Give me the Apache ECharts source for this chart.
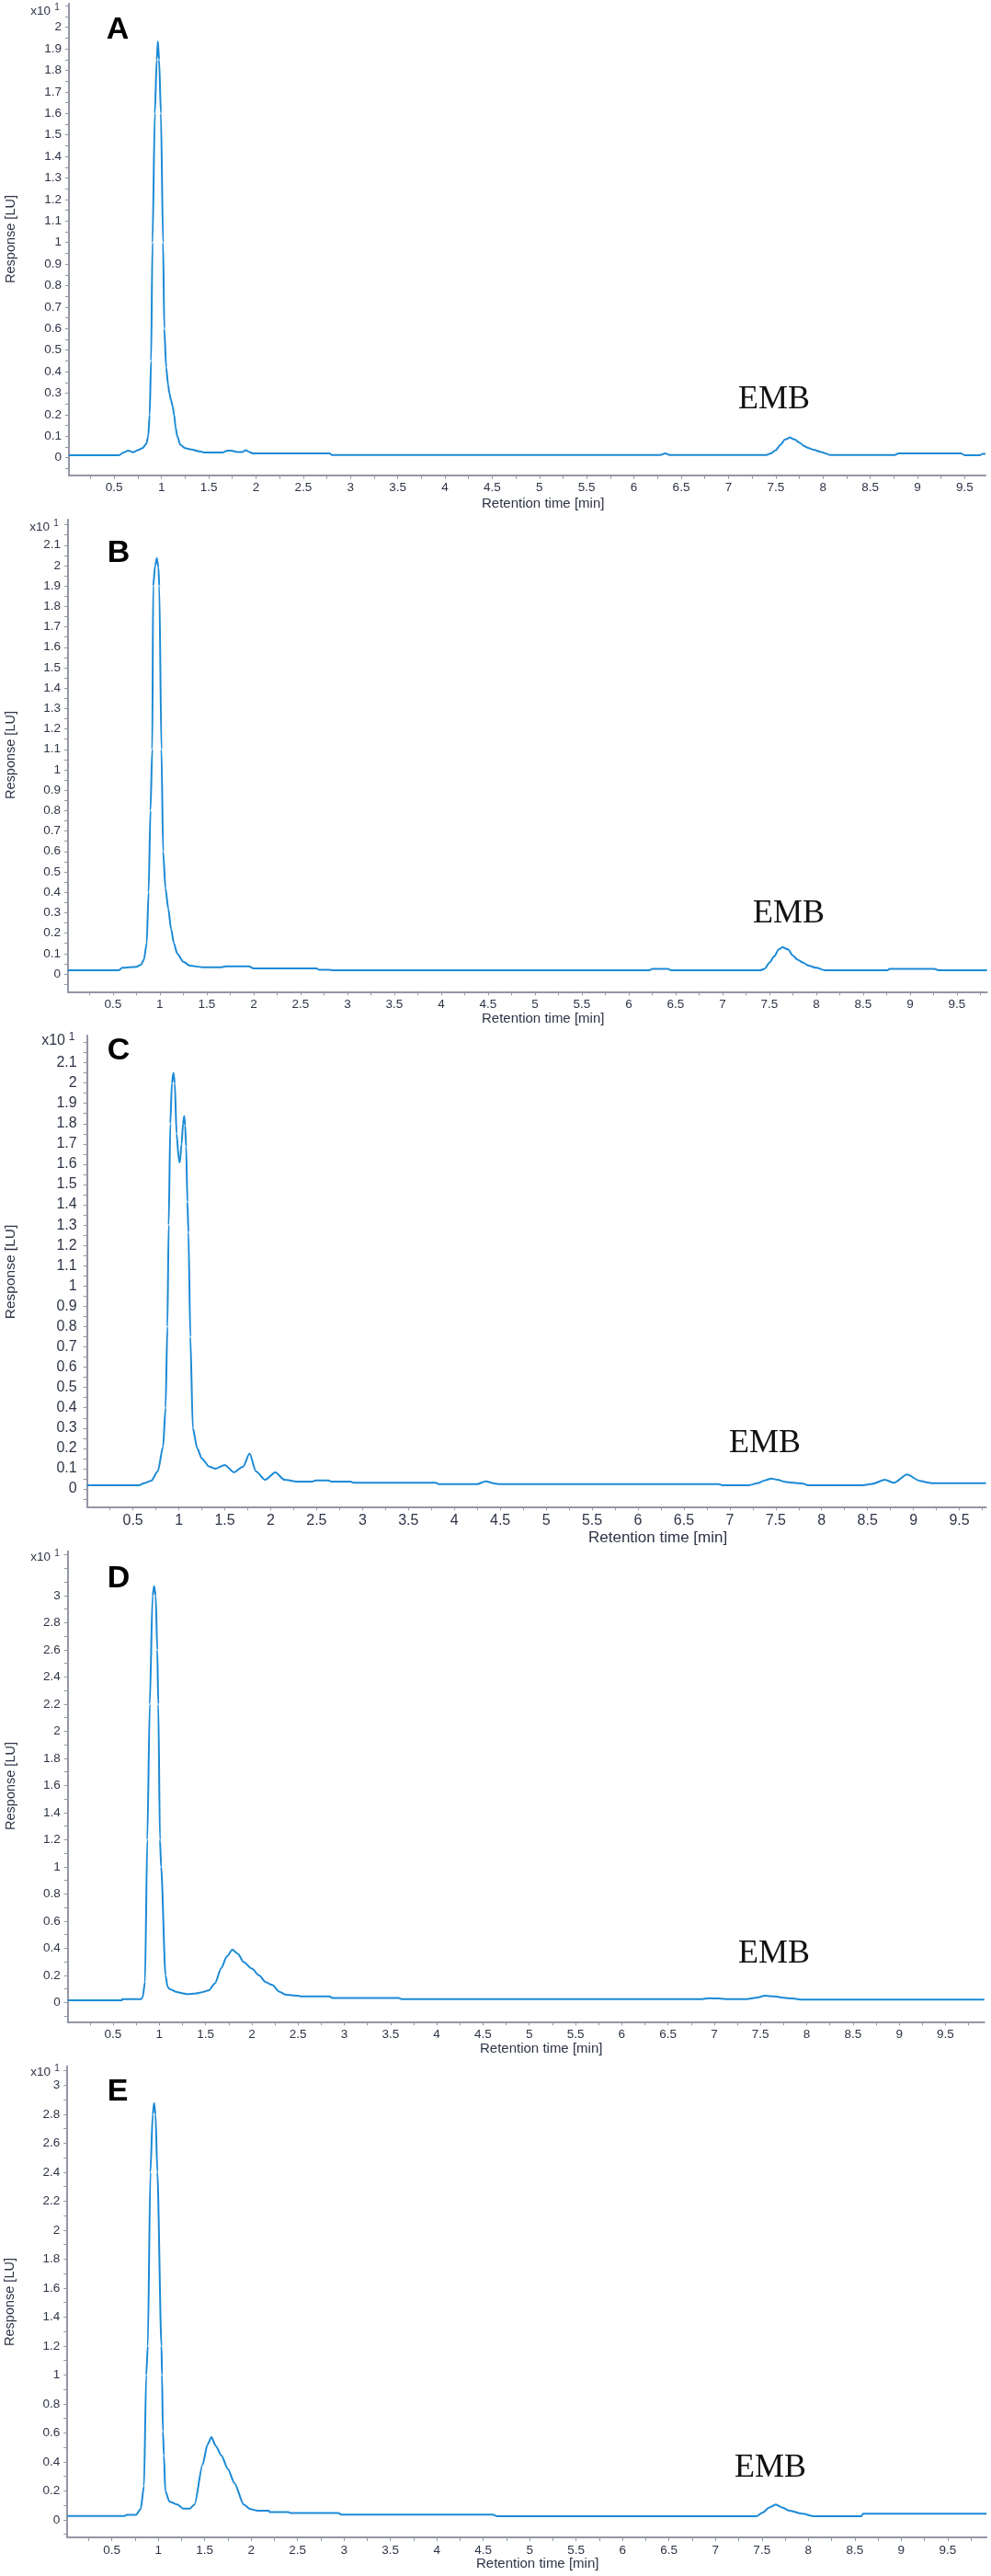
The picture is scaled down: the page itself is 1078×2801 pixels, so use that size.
<!DOCTYPE html>
<html><head><meta charset="utf-8">
<script src="https://cdn.jsdelivr.net/npm/echarts@6/dist/echarts.min.js"></script>
<style>html,body{margin:0;padding:0;background:#fff}#c{width:1078px;height:2801px}</style>
</head><body><div id="c"></div>
<script>
// ---------- DATA (retention time in min, response in x10^1 LU) ----------
const timeA = [0.02,0.55,0.6,0.65,0.7,0.75,0.8,0.84,0.86,0.875,0.89,0.905,0.93,0.95,0.962,0.975,0.994,1.017,1.03,1.05,1.07,1.084,1.1,1.118,1.134,1.15,1.167,1.2,1.25,1.3,1.4,1.45,1.65,1.7,1.74,1.8,1.86,1.89,1.93,1.97,2.78,2.8,6.28,6.33,6.38,7.4,7.45,7.5,7.55,7.6,7.65,7.7,7.75,7.8,7.85,7.9,7.98,8.08,8.76,8.8,9.46,9.5,9.66,9.69,9.72];
const respA = [0.012,0.012,0.025,0.033,0.026,0.035,0.045,0.065,0.1,0.2,0.45,1.0,1.6,1.85,1.935,1.85,1.6,1.0,0.6,0.42,0.34,0.3,0.27,0.24,0.2,0.14,0.1,0.06,0.045,0.04,0.03,0.025,0.025,0.033,0.033,0.027,0.027,0.035,0.027,0.02,0.02,0.013,0.013,0.02,0.013,0.013,0.02,0.035,0.06,0.085,0.094,0.085,0.07,0.055,0.045,0.037,0.027,0.013,0.013,0.02,0.02,0.012,0.012,0.018,0.018];

const timeB = [0.02,0.56,0.6,0.75,0.8,0.83,0.86,0.88,0.9,0.919,0.929,0.95,0.968,0.985,0.994,1.017,1.035,1.06,1.09,1.12,1.15,1.185,1.25,1.32,1.45,1.66,1.7,1.95,2.0,2.67,2.7,2.8,2.85,6.22,6.25,6.42,6.45,7.4,7.45,7.5,7.55,7.6,7.64,7.7,7.75,7.8,7.86,7.92,8.0,8.09,8.76,8.78,9.26,9.3,9.82];
const respB = [0.018,0.018,0.03,0.035,0.045,0.07,0.15,0.4,0.8,1.1,1.9,2.0,2.037,1.99,1.9,1.1,0.6,0.42,0.32,0.22,0.15,0.1,0.06,0.04,0.033,0.033,0.037,0.037,0.027,0.027,0.02,0.02,0.018,0.018,0.025,0.025,0.018,0.018,0.025,0.055,0.085,0.12,0.13,0.12,0.09,0.07,0.055,0.04,0.03,0.018,0.018,0.025,0.025,0.018,0.018];

const timeC = [0,0.567,0.62,0.7,0.77,0.828,0.855,0.875,0.889,0.907,0.924,0.941,0.955,0.975,1.0,1.01,1.03,1.045,1.058,1.068,1.079,1.093,1.104,1.125,1.152,1.2,1.25,1.33,1.4,1.5,1.6,1.7,1.77,1.84,1.94,2.05,2.15,2.29,2.45,2.49,2.63,2.66,2.87,2.9,3.8,3.83,4.25,4.34,4.45,4.49,6.88,6.92,7.21,7.3,7.38,7.45,7.52,7.6,7.69,7.8,7.85,8.45,8.55,8.69,8.79,8.93,9.07,9.17,9.2,9.79];
const respC = [0.018,0.018,0.028,0.041,0.086,0.208,0.4,0.8,1.3,1.8,2.0,2.05,2.0,1.75,1.62,1.608,1.7,1.8,1.838,1.79,1.687,1.415,1.264,0.75,0.3,0.2,0.15,0.11,0.1,0.118,0.082,0.11,0.174,0.086,0.045,0.082,0.045,0.036,0.036,0.042,0.042,0.036,0.036,0.03,0.03,0.024,0.024,0.037,0.026,0.024,0.024,0.018,0.018,0.028,0.042,0.051,0.045,0.035,0.03,0.026,0.018,0.018,0.025,0.045,0.03,0.071,0.04,0.03,0.028,0.028];

const timeD = [0.01,0.595,0.6,0.8,0.82,0.845,0.87,0.897,0.927,0.944,0.961,0.978,0.989,1.007,1.02,1.067,1.09,1.11,1.18,1.245,1.3,1.4,1.45,1.535,1.6,1.67,1.73,1.79,1.85,1.91,2.0,2.08,2.15,2.22,2.3,2.36,2.5,2.53,2.84,2.87,3.59,3.62,6.85,6.95,7.05,7.15,7.35,7.45,7.55,7.65,7.75,7.85,7.95,9.92];
const respD = [0.017,0.017,0.025,0.025,0.04,0.15,1.2,2.2,3.0,3.07,3.0,2.6,2.2,1.2,1.0,0.2,0.117,0.1,0.08,0.07,0.062,0.068,0.075,0.09,0.14,0.254,0.34,0.39,0.36,0.3,0.25,0.2,0.15,0.13,0.08,0.06,0.05,0.045,0.045,0.034,0.034,0.025,0.025,0.032,0.03,0.025,0.025,0.035,0.05,0.045,0.035,0.03,0.022,0.022];

const timeE = [0.02,0.64,0.66,0.76,0.81,0.846,0.87,0.887,0.915,0.94,0.955,0.97,0.99,1.034,1.04,1.05,1.061,1.075,1.12,1.204,1.27,1.34,1.39,1.477,1.53,1.572,1.62,1.68,1.75,1.82,1.92,1.99,2.07,2.19,2.2,2.4,2.43,2.94,2.97,4.6,4.65,7.44,7.51,7.58,7.65,7.72,7.8,7.94,8.06,8.57,8.59,9.92];
const respE = [0.027,0.027,0.035,0.035,0.074,0.233,1.0,1.2,2.4,2.8,2.878,2.8,2.4,1.2,1.0,0.607,0.444,0.2,0.127,0.106,0.078,0.078,0.106,0.381,0.52,0.571,0.51,0.444,0.35,0.254,0.106,0.074,0.063,0.063,0.053,0.053,0.047,0.047,0.036,0.036,0.025,0.025,0.051,0.085,0.106,0.085,0.063,0.042,0.025,0.025,0.042,0.042];

// ---------- TICK LABELS ----------
const xTickLabels = [0.5,1,1.5,2,2.5,3,3.5,4,4.5,5,5.5,6,6.5,7,7.5,8,8.5,9,9.5];
const yLabelsA = [0,0.1,0.2,0.3,0.4,0.5,0.6,0.7,0.8,0.9,1,1.1,1.2,1.3,1.4,1.5,1.6,1.7,1.8,1.9,2];
const yLabelsBC = [0,0.1,0.2,0.3,0.4,0.5,0.6,0.7,0.8,0.9,1,1.1,1.2,1.3,1.4,1.5,1.6,1.7,1.8,1.9,2,2.1];
const yLabelsDE = [0,0.2,0.4,0.6,0.8,1,1.2,1.4,1.6,1.8,2,2.2,2.4,2.6,2.8,3];
const panelLetters = ['A','B','C','D','E'];
const peakLabel = 'EMB';
const xName = 'Retention time [min]';
const yName = 'Response [LU]';

// ---------- LAYOUT ----------
function steps(a, b, s){ const out=[]; for(let v=a; v<=b+1e-9; v+=s){ out.push(Math.round(v*1000)/1000);} return out; }
const panels = [
  {t:timeA, r:respA, left:74.9, top:4,      width:997.1, height:512.7, xmin:0.02, xmax:9.72, ymin:-0.081, ymax:2.11,  yl:yLabelsA,  yt:steps(-0.05,2.1,0.05), fs:13.5, nfs:15, yfs:14.5, xn:[524,548],  yn:[12,260],  sup:[55,12], let:[128,33],   emb:[842,435]},
  {t:timeB, r:respB, left:73.9, top:565,    width:999.7, height:513.3, xmin:0.02, xmax:9.82, ymin:-0.087, ymax:2.225, yl:yLabelsBC, yt:steps(-0.05,2.2,0.05), fs:13.5, nfs:15, yfs:14.5, xn:[524,1108], yn:[12,821],  sup:[54,573], let:[129,602],  emb:[858,994]},
  {t:timeC, r:respC, left:94.7, top:1126,   width:977.8, height:512.3, xmin:0,    xmax:9.79, ymin:-0.0875,ymax:2.234, yl:yLabelsBC, yt:steps(-0.05,2.2,0.05), fs:16, nfs:17, yfs:15.5, xn:[640,1672], yn:[12,1383], sup:[71,1132],let:[129,1143], emb:[832,1570]},
  {t:timeD, r:respD, left:73.7, top:1686.7, width:997,   height:511.6, xmin:0.01, xmax:9.92, ymin:-0.141, ymax:3.327, yl:yLabelsDE, yt:steps(-0.1,3.3,0.1),   fs:13.5, nfs:15, yfs:14.5, xn:[522,2228], yn:[12,1942], sup:[55,1693],let:[129,1717], emb:[842,2125]},
  {t:timeE, r:respE, left:73.2, top:2246.7, width:1000,  height:512.3, xmin:0.02, xmax:9.92, ymin:-0.121, ymax:3.132, yl:yLabelsDE, yt:steps(-0.1,3.1,0.1),   fs:13.5, nfs:15, yfs:14.5, xn:[518,2788], yn:[11,2503], sup:[55,2253],let:[128,2275], emb:[838,2684]}
];
const xTicks = steps(0.25, 9.75, 0.25);

const axisColor = '#9396a6';
const labelColor = '#2e3447';
const lineColor = '#1c8ad6';
const sans = '"Liberation Sans", Arial, sans-serif';

const grids=[], xAxes=[], yAxes=[], series=[], graphics=[];
panels.forEach((p,i)=>{
  grids.push({left:p.left, top:p.top, width:p.width, height:p.height, containLabel:false});
  xAxes.push({gridIndex:i, type:'value', min:p.xmin, max:p.xmax,
    axisLine:{show:true, onZero:false, lineStyle:{color:axisColor, width:2}},
    axisTick:{show:true, customValues:xTicks.filter(v=>v>p.xmin&&v<p.xmax), length:4, lineStyle:{color:axisColor, width:1}},
    axisLabel:{customValues:xTickLabels, margin:7, fontSize:p.fs, color:labelColor, fontFamily:sans, formatter:v=>String(v)},
    splitLine:{show:false}});
  yAxes.push({gridIndex:i, type:'value', min:p.ymin, max:p.ymax,
    axisLine:{show:true, onZero:false, lineStyle:{color:axisColor, width:2}},
    axisTick:{show:true, customValues:p.yt.filter(v=>v>p.ymin&&v<p.ymax), length:4, lineStyle:{color:axisColor, width:1}},
    axisLabel:{customValues:p.yl, margin:p.fs>14?11:8, fontSize:p.fs, color:labelColor, fontFamily:sans, formatter:v=>String(v)},
    splitLine:{show:false}});
  series.push({type:'line', xAxisIndex:i, yAxisIndex:i, data:p.t.map((x,k)=>[x,p.r[k]]),
    showSymbol:false, symbol:'none', smooth:0.25, smoothMonotone:'x',
    lineStyle:{color:lineColor, width:2}, silent:true, animation:false, clip:true});
  const fs = p.fs;
  graphics.push({type:'text', x:p.sup[0], y:p.sup[1], style:{text:'x10', font:fs+'px '+sans, fill:labelColor, textAlign:'right', textVerticalAlign:'middle', align:'right', verticalAlign:'middle'}});
  graphics.push({type:'text', x:p.sup[0]+7, y:p.sup[1]-4, style:{text:'1', font:Math.round(fs*0.72)+'px '+sans, fill:labelColor, textAlign:'center', textVerticalAlign:'middle', align:'center', verticalAlign:'middle'}});
  graphics.push({type:'text', x:p.xn[0], y:p.xn[1], style:{text:xName, font:p.nfs+'px '+sans, fill:labelColor, textAlign:'left', textVerticalAlign:'middle', align:'left', verticalAlign:'middle'}});
  graphics.push({type:'text', x:p.yn[0], y:p.yn[1], rotation:Math.PI/2, style:{text:yName, font:p.yfs+'px '+sans, fill:labelColor, textAlign:'center', textVerticalAlign:'middle', align:'center', verticalAlign:'middle'}});
  graphics.push({type:'text', x:p.let[0], y:p.let[1], style:{text:panelLetters[i], font:'bold 34px '+sans, fill:'#000', textAlign:'center', textVerticalAlign:'middle', align:'center', verticalAlign:'middle'}});
  graphics.push({type:'text', x:p.emb[0], y:p.emb[1], style:{text:peakLabel, font:'36px "Liberation Serif", "Times New Roman", serif', fill:'#111', textAlign:'center', textVerticalAlign:'middle', align:'center', verticalAlign:'middle'}});
});

const chart = echarts.init(document.getElementById('c'), null, {renderer:'canvas', width:1078, height:2801});
chart.setOption({animation:false, backgroundColor:'#ffffff', grid:grids, xAxis:xAxes, yAxis:yAxes, series:series, graphic:graphics});
</script>
</body></html>
